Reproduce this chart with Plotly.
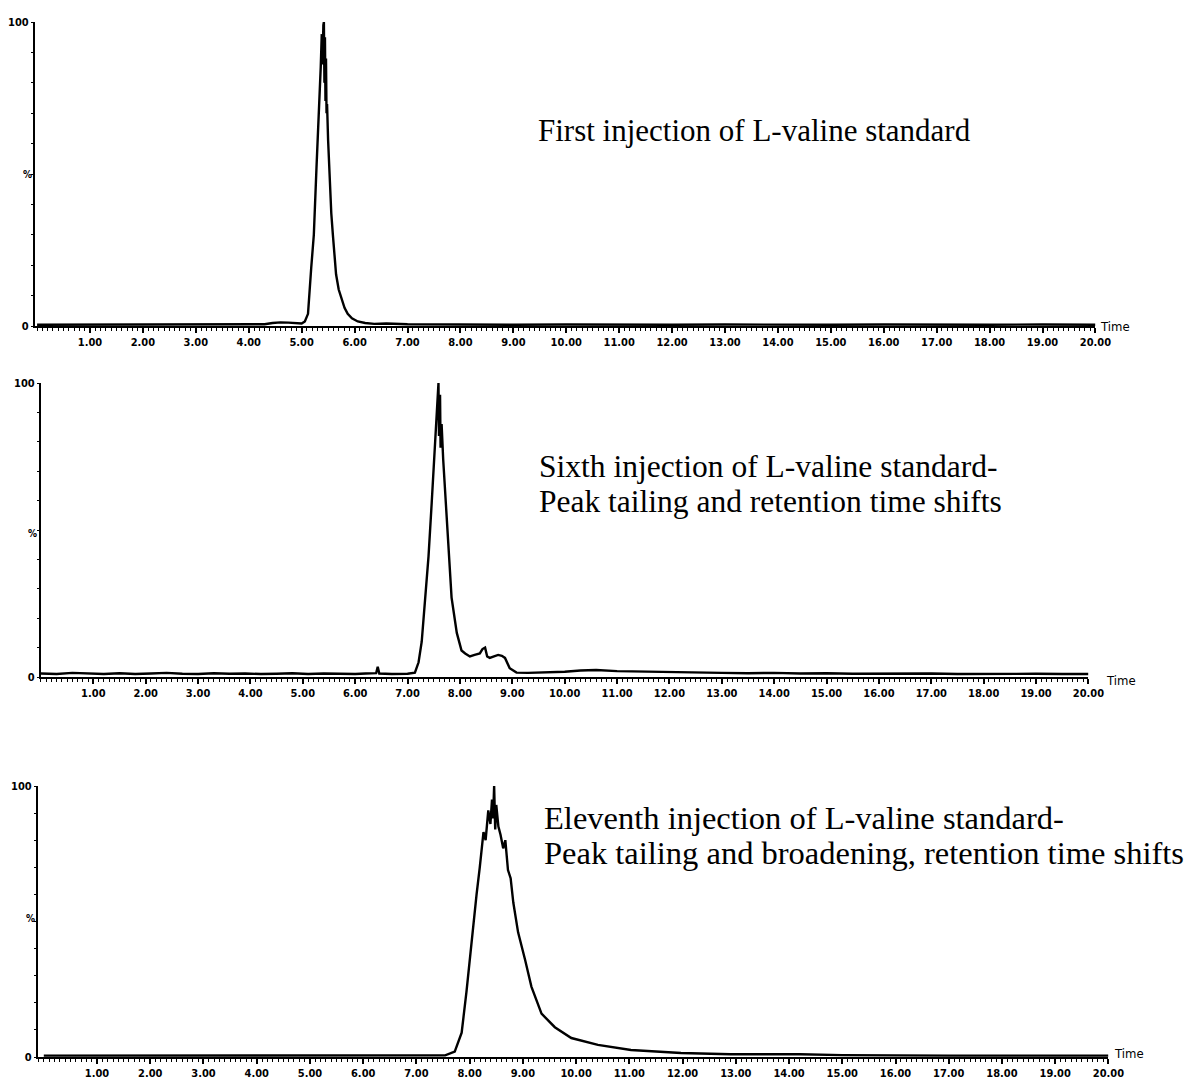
import plotly.graph_objects as go

# ---------------- data ----------------
# Panel 1: first injection
t1 = [0.0, 0.5, 1.0, 1.5, 2.0, 2.5, 3.0, 3.5, 4.0, 4.3, 4.45, 4.6, 4.75, 4.9, 5.0,
      5.06, 5.12, 5.18, 5.23, 5.28, 5.31, 5.34, 5.36, 5.38, 5.395, 5.41, 5.42, 5.43,
      5.44, 5.45, 5.46, 5.47, 5.48, 5.50, 5.53, 5.56, 5.59, 5.62, 5.65, 5.70, 5.75,
      5.81, 5.87, 5.95, 6.06, 6.2, 6.37, 6.6, 7.0, 7.5, 8.0, 9.0, 10.0, 11.0, 12.0,
      13.0, 14.0, 15.0, 16.0, 17.0, 18.0, 19.0, 20.0]
y1 = [0.4, 0.4, 0.5, 0.4, 0.4, 0.5, 0.4, 0.5, 0.5, 0.6, 1.0, 1.2, 1.1, 1.0, 0.8,
      1.5, 4.0, 19.0, 30.0, 52.0, 63.0, 78.0, 85.0, 96.0, 86.0, 99.0, 100.0, 80.0,
      95.0, 74.0, 88.0, 70.0, 73.0, 61.0, 46.0, 37.0, 30.0, 22.0, 17.0, 12.0, 9.0,
      6.0, 4.0, 2.5, 1.5, 1.0, 0.7, 0.8, 0.6, 0.5, 0.5, 0.4, 0.5, 0.4, 0.4,
      0.5, 0.4, 0.4, 0.5, 0.4, 0.4, 0.5, 0.4]

# Panel 2: sixth injection
t2 = [0.0, 0.3, 0.6, 0.9, 1.2, 1.5, 1.8, 2.1, 2.4, 2.7, 3.0, 3.3, 3.6, 3.9, 4.2,
      4.5, 4.8, 5.1, 5.4, 5.7, 6.0, 6.2, 6.40, 6.43, 6.46, 6.7, 7.0, 7.14, 7.21,
      7.27, 7.33, 7.40, 7.46, 7.52, 7.54, 7.56, 7.575, 7.59, 7.60, 7.62, 7.63, 7.65,
      7.68, 7.71, 7.78, 7.84, 7.94, 8.03, 8.10, 8.19, 8.28, 8.38, 8.43, 8.48, 8.52,
      8.57, 8.65, 8.73, 8.80, 8.86, 8.95, 9.08, 9.3, 9.6, 10.0, 10.3, 10.6, 11.0,
      11.5, 12.0, 12.5, 13.0, 13.5, 14.0, 14.5, 15.0, 15.5, 16.0, 16.5, 17.0, 17.5,
      18.0, 18.5, 19.0, 19.5, 20.0]
y2 = [1.2, 1.0, 1.4, 1.1, 1.0, 1.3, 1.0, 1.2, 1.4, 1.1, 1.0, 1.3, 1.1, 1.2, 1.0,
      1.1, 1.3, 1.0, 1.2, 1.1, 1.0, 1.2, 1.3, 3.5, 1.2, 1.0, 1.1, 1.5, 5.0,
      12.0, 25.0, 41.0, 59.0, 78.0, 88.0, 93.0, 99.0, 100.0, 82.0, 96.0, 78.0, 86.0,
      74.0, 65.0, 44.0, 27.0, 15.0, 9.0, 8.0, 7.0, 7.5, 8.0, 9.5, 10.0, 7.0,
      6.5, 7.0, 7.5, 7.2, 6.5, 3.0, 1.5, 1.4, 1.5, 1.8, 2.2, 2.4, 2.0,
      1.8, 1.6, 1.5, 1.4, 1.3, 1.4, 1.2, 1.3, 1.1, 1.2, 1.1, 1.2, 1.0,
      1.1, 1.0, 1.1, 1.0, 1.0]

# Panel 3: eleventh injection
t3 = [0.0, 1.0, 2.0, 3.0, 4.0, 5.0, 6.0, 7.0, 7.54, 7.72, 7.85, 7.94, 8.04, 8.13,
      8.19, 8.26, 8.30, 8.35, 8.39, 8.42, 8.44, 8.46, 8.48, 8.50, 8.54, 8.58, 8.63,
      8.67, 8.72, 8.77, 8.82, 8.91, 9.04, 9.16, 9.35, 9.60, 9.91, 10.41, 11.03, 11.5,
      11.97, 12.9, 14.2, 15.0, 16.0, 17.0, 18.0, 19.0, 20.0]
y3 = [0.5, 0.5, 0.5, 0.5, 0.5, 0.5, 0.5, 0.5, 0.6, 2.0, 9.0, 24.0, 44.0, 60.0,
      70.0, 83.0, 80.0, 91.0, 86.0, 95.0, 88.0, 100.0, 84.0, 93.0, 85.0, 82.0, 77.0,
      80.0, 69.0, 66.0, 57.0, 46.0, 36.0, 26.0, 16.0, 11.0, 7.0, 4.5, 2.6, 2.0,
      1.5, 1.0, 1.0, 0.7, 0.5, 0.5, 0.5, 0.5, 0.5]

x_ticks = list(range(1, 21))
x_tick_labels = [f"{v}.00" for v in x_ticks]

labels = [["First injection of L-valine standard"],
          ["Sixth injection of L-valine standard-",
           "Peak tailing and retention time shifts"],
          ["Eleventh injection of L-valine standard-",
           "Peak tailing and broadening, retention time shifts"]]

# ---------------- geometry ----------------
W, H = 1194, 1084
SC = 0.988      # observed page-to-photo scale
DY = 6          # observed vertical offset in the photo


def px(x):
    return (x / SC) / W


def py(y):
    return 1 - ((y - DY) / SC) / H


panels = [
    dict(t=t1, y=y1, x0px=35, x1px=1097, xr=[-0.04, 20.0], ytop=22, ybot=326,
         lx=537, ly=[130], fs=31, time=(1100, 326), pct=(28, 174)),
    dict(t=t2, y=y2, x0px=41, x1px=1090, xr=[0.0, 20.0], ytop=383, ybot=677,
         lx=538, ly=[466, 501], fs=31.5, time=(1106, 680), pct=(33, 533)),
    dict(t=t3, y=y3, x0px=38, x1px=1110, xr=[-0.11, 20.0], ytop=786, ybot=1057,
         lx=543, ly=[818, 853], fs=32.5, time=(1114, 1053), pct=(31, 918)),
]

fig = go.Figure()
tickfont = dict(family="DejaVu Sans Condensed", size=11, color="black", weight="bold")
annotations = []

for i, p in enumerate(panels):
    n = "" if i == 0 else str(i + 1)
    fig.add_trace(go.Scatter(x=p["t"], y=p["y"], mode="lines",
                             line=dict(color="black", width=2.4),
                             xaxis="x" + n, yaxis="y" + n, showlegend=False,
                             hoverinfo="skip"))
    xd = [px(p["x0px"]), px(p["x1px"])]
    yd = [py(p["ybot"]), py(p["ytop"])]
    fig.update_layout(**{
        "xaxis" + n: dict(domain=xd, range=p["xr"], anchor="y" + n,
                          showgrid=False, zeroline=False, showline=True,
                          linecolor="black", linewidth=2,
                          tickvals=x_ticks, ticktext=x_tick_labels,
                          ticks="outside", ticklen=5, tickwidth=1.5, tickcolor="black",
                          tickfont=tickfont,
                          minor=dict(dtick=0.1, tick0=0, ticks="outside", ticklen=3,
                                     tickcolor="black", tickwidth=1)),
        "yaxis" + n: dict(domain=yd, range=[0, 100], anchor="x" + n,
                          showgrid=False, zeroline=False, showline=True,
                          linecolor="black", linewidth=2,
                          tickvals=[0, 100], ticktext=["0", "100"],
                          ticks="outside", ticklen=2, tickcolor="black",
                          tickfont=tickfont, ticklabelstandoff=0,
                          minor=dict(dtick=10, tick0=0, ticks="outside", ticklen=2,
                                     tickcolor="black")),
    })
    annotations.append(dict(text="%", x=px(p["pct"][0]), y=py(p["pct"][1]),
                            xref="paper", yref="paper", showarrow=False,
                            xanchor="center", yanchor="middle",
                            font=dict(family="DejaVu Sans Condensed", size=10,
                                      color="black", weight="bold")))
    annotations.append(dict(text="Time", x=px(p["time"][0]), y=py(p["time"][1]),
                            xref="paper", yref="paper", showarrow=False,
                            xanchor="left", yanchor="middle",
                            font=dict(family="DejaVu Sans Condensed", size=13,
                                      color="black")))
    for line_text, ly in zip(labels[i], p["ly"]):
        annotations.append(dict(text=line_text, x=px(p["lx"]), y=py(ly),
                                xref="paper", yref="paper", showarrow=False,
                                xanchor="left", yanchor="middle", align="left",
                                font=dict(family="Liberation Serif", size=p["fs"],
                                          color="black")))

fig.update_layout(width=W, height=H, margin=dict(l=0, r=0, t=0, b=0),
                  paper_bgcolor="white", plot_bgcolor="white",
                  annotations=annotations)

fig.write_html("out.html")
